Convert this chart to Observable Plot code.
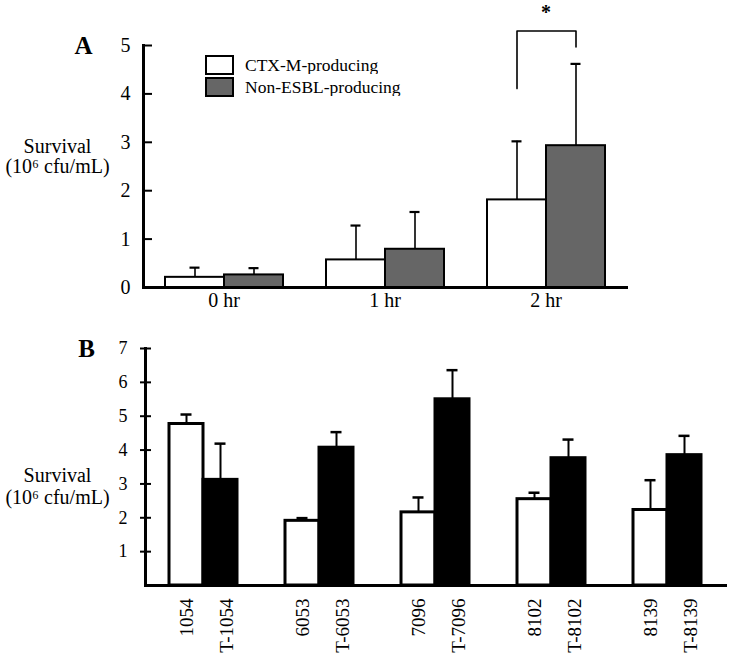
<!DOCTYPE html>
<html>
<head>
<meta charset="utf-8">
<script src="https://cdn.jsdelivr.net/npm/d3@7"></script>
<script src="https://cdn.jsdelivr.net/npm/@observablehq/plot@0.6"></script>
<style>
  html, body { margin: 0; padding: 0; background: #fff; }
  #wrap { position: relative; width: 742px; height: 658px; font-family: "Liberation Serif", "Times New Roman", serif; }
  #wrap svg { display: block; }
  #legendA { position: absolute; left: 206px; top: 56px; }
  #legendA .legA-swatch > svg { margin-right: 12px !important; overflow: visible; }
  #legendA .legA-swatch > svg rect { stroke: #000; stroke-width: 2px; }
  #legendA .legA-swatch { font-size: 17.5px; line-height: 18px; font-family: "Liberation Serif", serif; color: #000; margin-bottom: 3px; }
</style>
</head>
<body>
<div id="wrap"></div>
<script>
// ---------- Panel A data ----------
const timesA = ["0 hr", "1 hr", "2 hr"];
const seriesA = ["CTX-M-producing", "Non-ESBL-producing"];
const fillsA = ["#ffffff", "#666666"];
const ctxMeanA = [0.21, 0.57, 1.81];
const ctxSdA = [0.20, 0.71, 1.21];
const nonMeanA = [0.26, 0.79, 2.93];
const nonSdA = [0.14, 0.77, 1.69];
const ticksA = [0, 1, 2, 3, 4, 5];
const bracketA = [
  {series: "CTX-M-producing", y: 4.11},
  {series: "CTX-M-producing", y: 5.30},
  {series: "Non-ESBL-producing", y: 5.30},
  {series: "Non-ESBL-producing", y: 4.97}
];
const starA = {time: "2 hr", y: 5.68, text: "*"};

// ---------- Panel B data ----------
const strainsB = ["1054", "6053", "7096", "8102", "8139"];
const seriesB = ["parent", "transconjugant"];
const fillsB = ["#ffffff", "#000000"];
const parentLabelsB = ["1054", "6053", "7096", "8102", "8139"];
const transLabelsB = ["T-1054", "T-6053", "T-7096", "T-8102", "T-8139"];
const parentMeanB = [4.77, 1.91, 2.16, 2.55, 2.23];
const parentSdB = [0.28, 0.08, 0.44, 0.19, 0.88];
const transMeanB = [3.12, 4.07, 5.50, 3.76, 3.85];
const transSdB = [1.07, 0.46, 0.86, 0.55, 0.57];
const ticksB = [1, 2, 3, 4, 5, 6, 7];

const yLabel = "Survival\n(10\u2076 cfu/mL)";

const rowsA = timesA.flatMap((t, i) => [
  {time: t, series: seriesA[0], mean: ctxMeanA[i], sd: ctxSdA[i]},
  {time: t, series: seriesA[1], mean: nonMeanA[i], sd: nonSdA[i]}
]);
const rowsB = strainsB.flatMap((s, i) => [
  {strain: s, series: seriesB[0], mean: parentMeanB[i], sd: parentSdB[i], label: parentLabelsB[i]},
  {strain: s, series: seriesB[1], mean: transMeanB[i], sd: transSdB[i], label: transLabelsB[i]}
]);

const font = "Liberation Serif, Times New Roman, serif";

const plotA = Plot.plot({
  width: 742,
  height: 320,
  marginLeft: 143,
  marginRight: 116,
  marginTop: 45,
  marginBottom: 33,
  style: {fontFamily: font, color: "#000", background: "#fff", overflow: "visible"},
  fx: {domain: timesA, paddingInner: 0, paddingOuter: 0, label: null},
  x: {domain: seriesA, paddingInner: 0, paddingOuter: 0.36, axis: null},
  y: {domain: [0, 5], axis: null},
  color: {domain: seriesA, range: fillsA},
  marks: [
    Plot.ruleX(rowsA, {fx: "time", x: "series", y1: "mean", y2: d => d.mean + d.sd, stroke: "#000", strokeWidth: 1.6}),
    Plot.tickY(rowsA, {fx: "time", x: "series", y: d => d.mean + d.sd, stroke: "#000", strokeWidth: 2.2, insetLeft: 24.5, insetRight: 24.5}),
    Plot.barY(rowsA, {fx: "time", x: "series", y: "mean", fill: "series", stroke: "#000", strokeWidth: 2}),
    Plot.line(bracketA, {fx: () => "2 hr", x: "series", y: "y", stroke: "#000", strokeWidth: 1.6}),
    Plot.text([starA], {fx: "time", y: "y", text: "text", fontSize: 20, fontWeight: "bold", fill: "#000"}),
    Plot.frame({anchor: "left", facet: "super", stroke: "#000", strokeWidth: 3}),
    Plot.frame({anchor: "bottom", facet: "super", stroke: "#000", strokeWidth: 3}),
    Plot.axisY({ticks: ticksA, tickSize: -9, tickPadding: 22, strokeWidth: 2, fontSize: 20, label: null, tickFormat: d => String(d)}),
    Plot.axisFx({anchor: "bottom", tickSize: 0, tickPadding: 5, fontSize: 20, label: null}),
    Plot.text([yLabel], {facet: "super", frameAnchor: "left", dx: -86, dy: -10, text: d => d, textAnchor: "middle", lineHeight: 1.0, fontSize: 20, fill: "#000"}),
    Plot.text(["A"], {facet: "super", frameAnchor: "top-left", lineAnchor: "middle", dx: -60, dy: 0, text: d => d, textAnchor: "middle", fontSize: 25, fontWeight: "bold", fill: "#000"})
  ]
});

const plotB = Plot.plot({
  width: 742,
  height: 338,
  marginLeft: 140,
  marginRight: 2,
  marginTop: 28,
  marginBottom: 73,
  style: {fontFamily: font, color: "#000", background: "#fff", overflow: "visible"},
  fx: {domain: strainsB, paddingInner: 0, paddingOuter: 0.0862, align: 0.24, label: null, axis: null},
  x: {domain: seriesB, paddingInner: 0, paddingOuter: 0.7, axis: null},
  y: {domain: [0, 7], axis: null},
  color: {domain: seriesB, range: fillsB},
  marks: [
    Plot.ruleX(rowsB, {fx: "strain", x: "series", y1: "mean", y2: d => d.mean + d.sd, stroke: "#000", strokeWidth: 2}),
    Plot.tickY(rowsB, {fx: "strain", x: "series", y: d => d.mean + d.sd, stroke: "#000", strokeWidth: 2.5, insetLeft: 11.5, insetRight: 11.5}),
    Plot.barY(rowsB, {fx: "strain", x: "series", y: "mean", fill: "series", stroke: "#000", strokeWidth: 3}),
    Plot.frame({anchor: "left", facet: "super", stroke: "#000", strokeWidth: 3}),
    Plot.frame({anchor: "bottom", facet: "super", stroke: "#000", strokeWidth: 3}),
    Plot.axisY({ticks: ticksB, dx: -5, tickSize: -11, tickPadding: 24, strokeWidth: 2, fontSize: 18, label: null, tickFormat: d => String(d)}),
    Plot.text(rowsB.filter(d => d.series === seriesB[0]), {fx: "strain", x: "series", y: 0, text: "label", rotate: -90, textAnchor: "end", dy: 13, fontSize: 19, fill: "#000"}),
    Plot.text(rowsB.filter(d => d.series === seriesB[1]), {fx: "strain", x: "series", y: 0, text: "label", rotate: -90, textAnchor: "end", dy: 13, dx: 6, fontSize: 19, fill: "#000"}),
    Plot.text([yLabel], {facet: "super", frameAnchor: "left", dx: -88, dy: 19, text: d => d, textAnchor: "middle", lineHeight: 1.1, fontSize: 20, fill: "#000"}),
    Plot.text(["B"], {facet: "super", frameAnchor: "top-left", lineAnchor: "middle", dx: -59, dy: 0, text: d => d, textAnchor: "middle", fontSize: 25, fontWeight: "bold", fill: "#000"})
  ]
});

const legendA = Plot.legend({
  color: {type: "ordinal", domain: seriesA, range: fillsA},
  swatchWidth: 27,
  swatchHeight: 18,
  columns: 1,
  className: "legA"
});

const wrap = document.getElementById("wrap");
wrap.appendChild(plotA);
wrap.appendChild(plotB);
const legDiv = document.createElement("div");
legDiv.id = "legendA";
legDiv.appendChild(legendA);
wrap.appendChild(legDiv);
</script>
</body>
</html>
